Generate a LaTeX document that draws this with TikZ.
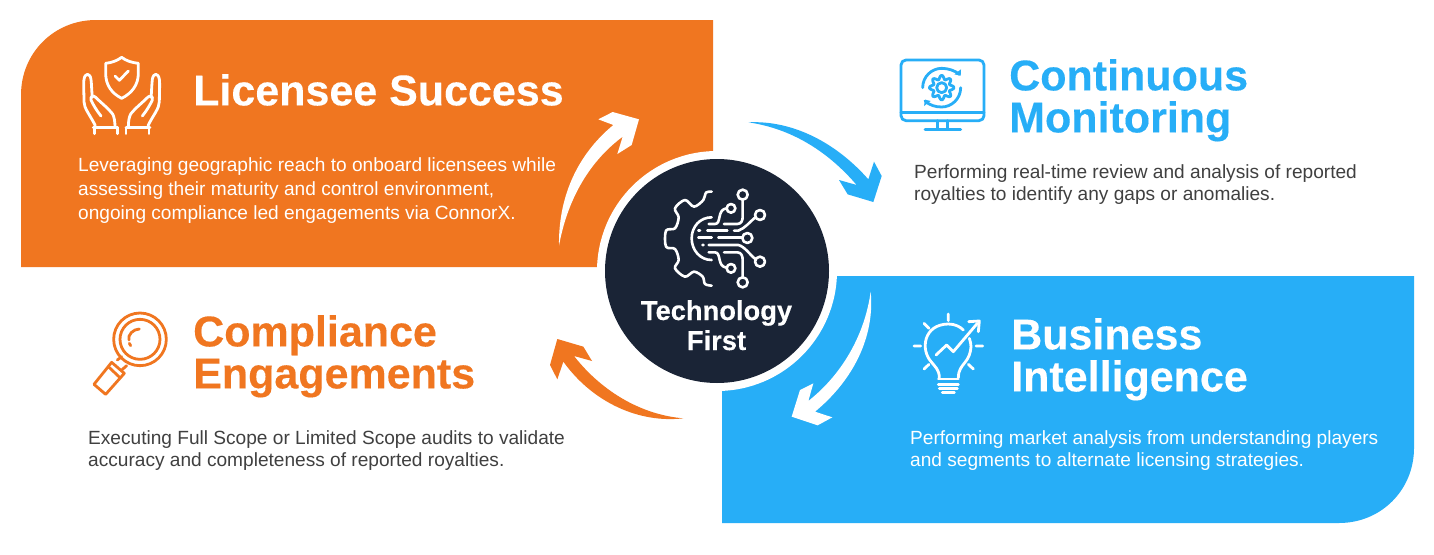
\documentclass[tikz,border=0pt]{standalone}
\usepackage{fontspec}
\setmainfont{Liberation Sans}
\newfontfamily\headfont[FakeBold=0.25]{Liberation Sans Bold}
\definecolor{orangeC}{HTML}{F07620}
\definecolor{blueC}{HTML}{27AEF7}
\definecolor{navyC}{HTML}{1A2436}
\definecolor{bodyC}{HTML}{404040}
\newcommand{\handshape}{%
 \draw[iconline] (-80,262) -- (-80,255) .. controls (-95,225) and (-113,205) .. (-113,185) .. controls (-113,160) and (-115,130) .. (-113,118) .. controls (-110,98) and (-95,98) .. (-92,118) .. controls (-90,135) and (-90,155) .. (-88,172);
 \draw[iconline] (-62,228) .. controls (-75,212) and (-85,195) .. (-92,180) .. controls (-95,168) and (-85,165) .. (-78,172) .. controls (-60,190) and (-40,205) .. (-27,222) .. controls (-22,232) and (-20,245) .. (-20,262);
 \draw[iconline] (-85,262) -- (-13,262) (-82,262) -- (-82,281) (-13,262) -- (-13,281);
}
\tikzset{
 iconline/.style={line width=2.8pt,line cap=round,line join=round,fill=none},
 headtext/.style={anchor=north west,inner sep=0pt,align=left,font=\fontsize{43}{42}\selectfont\headfont},
 bodytext/.style={anchor=north west,inner sep=0pt,align=left,text=bodyC,font=\fontsize{19.1}{22}\selectfont},
}
\begin{document}
\begin{tikzpicture}[x=1pt,y=1pt,yscale=-1]
\useasboundingbox (0,0) rectangle (1434,554);
\fill[white] (0,0) rectangle (1434,554);
% panels
\fill[orangeC] (21,267) -- (21,95) .. controls (21,53) and (54,20) .. (96,20) -- (713,20) -- (713,267) -- cycle;
\fill[blueC] (722,276) -- (1414,276) -- (1414,448) .. controls (1414,490) and (1381,523) .. (1339,523) -- (722,523) -- cycle;
% central disc
\fill[white] (717,271) circle[radius=120];
\node[circle,fill=navyC,minimum size=224pt,inner sep=0pt] (hub) at (717,271) {};
% arrows (drawn with coordinates of a 3x zoom)
\begin{scope}[shift={(550,100)},scale=0.33333]
\fill[white] (27,437) .. controls (25,300) and (75,170) .. (190,75) -- (145,58) -- (188,36) -- (267,58) -- (245,135) -- (202,162) -- (218,110) .. controls (110,190) and (50,310) .. (27,437) -- cycle;
\fill[blueC] (595,67) .. controls (730,60) and (860,130) .. (955,238) -- (972,185) -- (995,228) -- (970,306) -- (893,283) -- (867,240) -- (920,255) .. controls (830,150) and (720,85) .. (595,67) -- cycle;
\fill[white] (962,575) .. controls (975,710) and (910,840) .. (795,935) -- (847,952) -- (803,976) -- (725,950) -- (750,870) -- (790,850) -- (775,903) .. controls (880,820) and (945,700) .. (962,575) -- cycle;
\fill[orangeC] (400,955) .. controls (270,970) and (130,910) .. (40,785) -- (22,838) -- (0,795) -- (22,717) -- (100,740) -- (126,783) -- (72,768) .. controls (160,880) and (280,945) .. (400,955) -- cycle;
% gear and circuit icon
\begin{scope}[white,line width=2.6pt,line cap=round,line join=round]
\draw plot[smooth,tension=0.55] coordinates {(485,275) (468,278) (460,300) (432,320) (405,300) (375,325) (386,352) (375,385) (348,392) (348,440) (375,447) (386,480) (375,505) (405,530) (432,515) (458,530) (465,552) (485,557)};
\draw (485,352) .. controls (450,352) and (425,380) .. (425,415) .. controls (425,450) and (450,480) .. (485,480);
\draw (476,372) -- (495,372) .. controls (515,372) and (500,328) .. (530,325);
\draw (543,325) circle[radius=13];
\draw (522,372) -- (562,372) .. controls (575,372) and (578,360) .. (578,350) -- (578,299);
\draw (578,284) circle[radius=15];
\draw (552,392) -- (565,392) .. controls (585,385) and (600,365) .. (616,352);
\draw (630,345) circle[radius=15];
\draw (472,392) -- (532,392) (445,392) -- (450,392);
\draw (445,413) -- (485,413) (505,413) -- (577,413);
\draw (592,414) circle[radius=15];
\draw (457,435) -- (461,435) (476,435) -- (565,435) .. controls (585,440) and (600,465) .. (616,477);
\draw (630,485) circle[radius=15];
\draw (476,457) -- (495,457) .. controls (515,457) and (500,500) .. (530,503);
\draw (543,505) circle[radius=13];
\draw (522,457) -- (562,457) .. controls (575,457) and (578,470) .. (578,480) -- (578,532);
\draw (578,547) circle[radius=15];
\end{scope}
\end{scope}
\node[anchor=base,inner sep=0pt,text=white,font=\fontsize{27.3}{30}\selectfont\headfont] (hubA) at (716.5,320) {Technology};
\node[anchor=base,inner sep=0pt,text=white,font=\fontsize{27.3}{30}\selectfont\headfont] (hubB) at (716.5,350) {First};
% hands icon
\begin{scope}[shift={(60,40)},scale=0.33333,white]
\draw[iconline] (137,70) .. controls (155,68) and (172,62) .. (185,52) .. controls (198,62) and (215,68) .. (235,70) -- (235,100) .. controls (235,135) and (215,160) .. (185,175) .. controls (155,160) and (137,135) .. (137,100) -- cycle;
\draw[iconline] (165,108) -- (178,121) -- (205,93);
\begin{scope}[shift={(185,0)}]\handshape\end{scope}
\begin{scope}[shift={(185,0)},xscale=-1]\handshape\end{scope}
\end{scope}
% monitor icon
\begin{scope}[shift={(890,50)},scale=0.33333,blueC]
\draw[iconline,rounded corners=5pt] (33,30) rectangle (282,212);
\draw[iconline] (33,187) -- (282,187) (143,212) -- (143,238) (172,212) -- (172,238) (105,238) -- (212,238);
\draw[iconline] (155,113) circle[radius=15];
\draw[iconline] plot[smooth,domain=0:360,samples=65] ({155+(31+6*cos(8*\x))*cos(\x)},{113+(31+6*cos(8*\x))*sin(\x)});
\draw[iconline] (98,113) .. controls (98,80) and (125,55) .. (155,55) .. controls (175,55) and (195,62) .. (208,73);
\draw[iconline] (212,113) .. controls (212,146) and (185,171) .. (155,171) .. controls (135,171) and (118,165) .. (105,153);
\fill (213,58) -- (212,77) -- (193,73) -- cycle;
\fill (102,168) -- (105,149) -- (122,153) -- cycle;
\end{scope}
% bulb icon
\begin{scope}[shift={(900,305)},scale=0.33333,white]
\draw[iconline] (118,218) .. controls (118,195) and (105,185) .. (95,172) .. controls (60,135) and (70,58) .. (145,57) .. controls (165,57) and (180,65) .. (190,75);
\draw[iconline] (175,218) .. controls (175,195) and (185,185) .. (195,172) .. controls (205,160) and (212,145) .. (213,125) .. controls (213,118) and (211,108) .. (208,100);
\draw[iconline] (115,222) -- (175,222) (115,238) -- (175,238) (118,250) -- (172,250) (127,263) -- (163,263);
\draw[iconline] (145,27) -- (145,47) (72,55) -- (87,70) (42,123) -- (62,123) (72,192) -- (87,178) (205,178) -- (220,192) (228,123) -- (248,123);
\draw[iconline] (108,150) -- (140,120) -- (160,140) -- (232,55);
\draw[iconline] (206,50) -- (238,48) -- (235,80);
\end{scope}
% magnifier icon
\begin{scope}[shift={(80,305)},scale=0.33333,orangeC]
\draw[iconline] (180,103) circle[radius=79];
\draw[iconline] (180,103) circle[radius=60];
\draw[iconline] (178,72) .. controls (160,72) and (142,90) .. (147,105);
\draw[iconline] (148,115) -- (152,122);
\draw[iconline] (95,172) -- (133,205) -- (77,268) -- (42,238) -- cycle;
\draw[iconline] (85,185) -- (120,218);
\draw[iconline] (112,165) -- (125,155) (140,182) -- (125,195);
\end{scope}
% texts
\node[headtext,text=white] (t1) at (193,74) {Licensee Success};
\node[bodytext,text=white,font=\fontsize{19.1}{24}\selectfont] (b1) at (78,157) {Leveraging geographic reach to onboard licensees while\\assessing their maturity and control environment,\\ongoing compliance led engagements via ConnorX.};
\node[headtext,text=blueC] (t2) at (1009,59) {Continuous\\Monitoring};
\node[bodytext] (b2) at (914,164) {Performing real-time review and analysis of reported\\royalties to identify any gaps or anomalies.};
\node[headtext,text=white] (t3) at (1011,318) {Business\\Intelligence};
\node[bodytext,text=white] (b3) at (910,430) {Performing market analysis from understanding players\\and segments to alternate licensing strategies.};
\node[headtext,text=orangeC] (t4) at (193,315) {Compliance\\Engagements};
\node[bodytext] (b4) at (88,430) {Executing Full Scope or Limited Scope audits to validate\\accuracy and completeness of reported royalties.};
\end{tikzpicture}
\end{document}
